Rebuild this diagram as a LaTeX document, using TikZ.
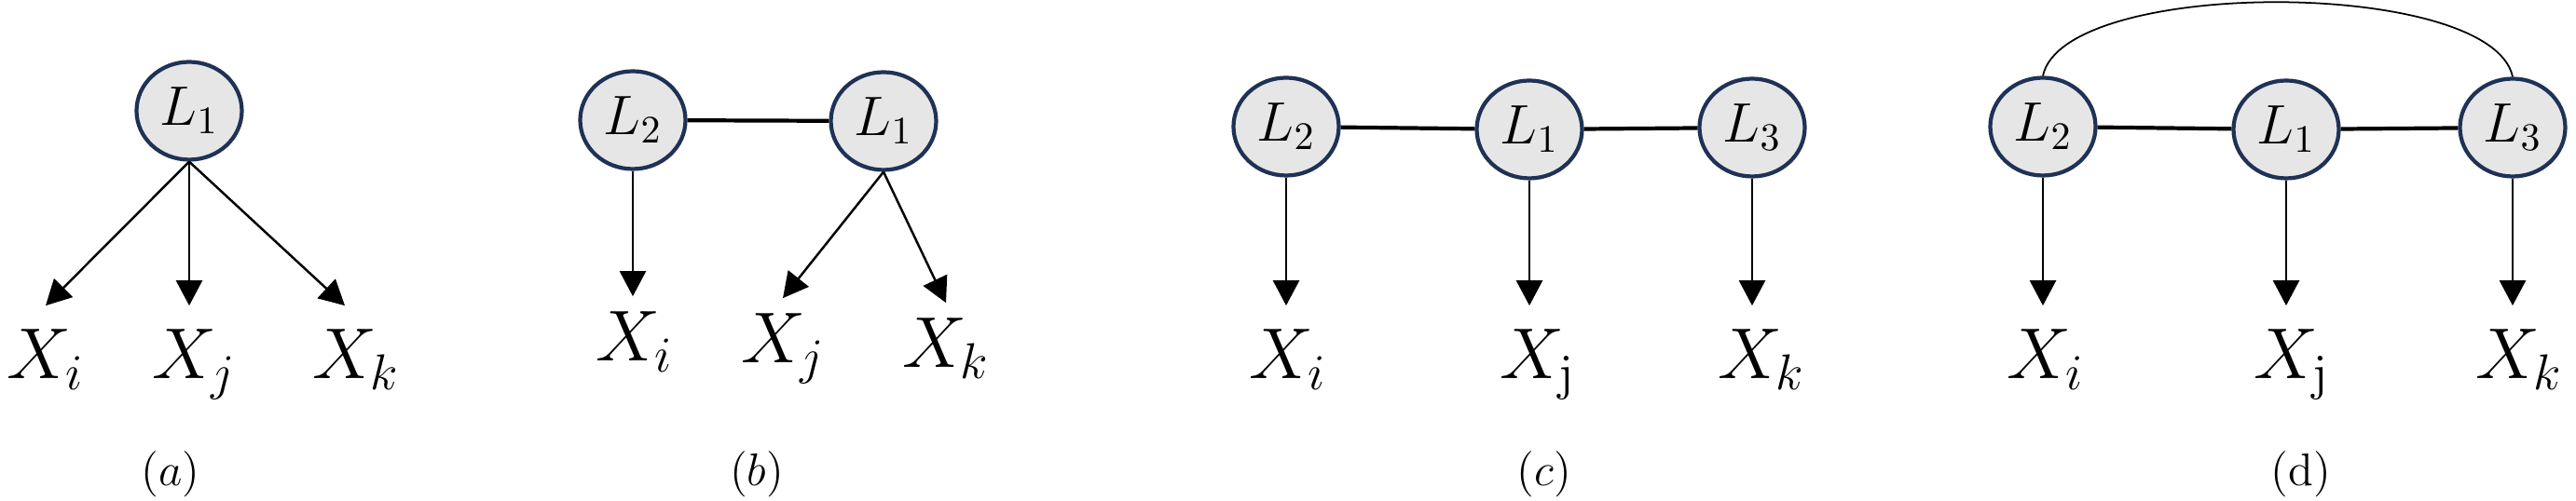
\RequirePackage{fix-cm}
\documentclass[tikz,border=0pt]{standalone}
\usetikzlibrary{shapes.geometric}
\usetikzlibrary{arrows.meta}
\definecolor{latentblue}{RGB}{31,50,86}
\definecolor{latentgray}{RGB}{230,230,230}
\tikzstyle{latent}=[ellipse, draw=latentblue, fill=latentgray, line width=1.2pt, minimum width=1.13cm, minimum height=1.05cm, inner sep=0pt, font=\fontsize{17}{20}\selectfont]
\tikzstyle{observed}=[anchor=base, inner sep=0pt, outer ysep=0.26cm, font=\fontsize{22}{26}\selectfont]
\tikzstyle{sublabel}=[inner sep=0pt, font=\fontsize{14}{17}\selectfont]
\tikzstyle{directed}=[-{Triangle[width=0.28cm,length=0.27cm]}, line width=0.7pt]
\tikzstyle{undirected}=[line width=1.2pt]
\tikzstyle{loose}=[line width=0.5pt]

\begin{document}
\begin{tikzpicture}
\useasboundingbox (0,0) rectangle (27.64,-5.38);

\node (L1a) at (2.03,-1.19) [latent] {$L_1$};
\node (Xia) at (0.49,-4.07) [observed] {$X_i$};
\node (Xja) at (2.08,-4.07) [observed] {$X_j$};
\node (Xka) at (3.82,-4.07) [observed] {$X_k$};
\node (capa) at (1.83,-5.09) [sublabel] {$(a)$};

\node (L2b) at (6.79,-1.29) [latent] {$L_2$};
\node (L1b) at (9.48,-1.30) [latent] {$L_1$};
\node (Xib) at (6.81,-3.88) [observed, outer ysep=0.17cm] {$X_i$};
\node (Xjb) at (8.40,-3.90) [observed, outer ysep=0.17cm] {$X_j$};
\node (Xkb) at (10.15,-3.95) [observed, outer ysep=0.17cm] {$X_k$};
\node (capb) at (8.12,-5.09) [sublabel] {$(b)$};

\node (L2c) at (13.80,-1.36) [latent] {$L_2$};
\node (L1c) at (16.41,-1.39) [latent] {$L_1$};
\node (L3c) at (18.80,-1.37) [latent] {$L_3$};
\node (Xic) at (13.82,-4.07) [observed] {$X_i$};
\node (Xjc) at (16.50,-4.07) [observed] {$X_{\mathrm{j}}$};
\node (Xkc) at (18.90,-4.07) [observed] {$X_k$};
\node (capc) at (16.57,-5.09) [sublabel] {$(c)$};

\node (L2d) at (21.92,-1.36) [latent] {$L_2$};
\node (L1d) at (24.53,-1.39) [latent] {$L_1$};
\node (L3d) at (26.96,-1.37) [latent] {$L_3$};
\node (Xid) at (21.95,-4.07) [observed] {$X_i$};
\node (Xjd) at (24.59,-4.07) [observed] {$X_{\mathrm{j}}$};
\node (Xkd) at (27.03,-4.07) [observed] {$X_k$};
\node (capd) at (24.69,-5.09) [sublabel] {(d)};

\draw [directed] (L1a.south) -- (Xia.north);
\draw [directed] (L1a.south) -- (L1a.south |- Xja.north);
\draw [directed] (L1a.south) -- ([xshift=-0.12cm]Xka.north);

\draw [undirected] (L2b) -- (L1b);
\draw [directed] (L2b.south) -- (L2b.south |- Xib.north);
\draw [directed] (L1b.south) -- (Xjb.north);
\draw [directed] (L1b.south) -- (Xkb.north);

\draw [undirected] (L2c) -- (L1c);
\draw [undirected] (L1c) -- (L3c);
\draw [directed] (L2c.south) -- (L2c.south |- Xic.north);
\draw [directed] (L1c.south) -- (L1c.south |- Xjc.north);
\draw [directed] (L3c.south) -- (L3c.south |- Xkc.north);

\draw [undirected] (L2d) -- (L1d);
\draw [undirected] (L1d) -- (L3d);
\draw [loose] (L2d.north) to[out=78,in=102,looseness=0.55] (L3d.north);
\draw [directed] (L2d.south) -- (L2d.south |- Xid.north);
\draw [directed] (L1d.south) -- (L1d.south |- Xjd.north);
\draw [directed] (L3d.south) -- (L3d.south |- Xkd.north);
\end{tikzpicture}
\end{document}
